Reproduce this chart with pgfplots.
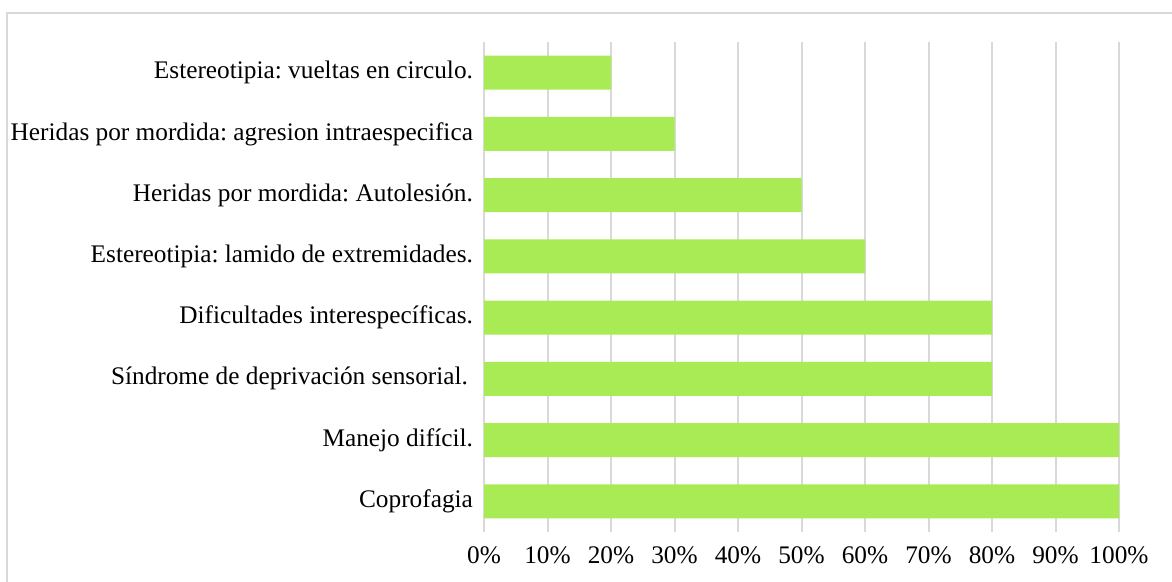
\documentclass[border=0pt]{standalone}
\usepackage{pgfplots}
\pgfplotsset{compat=1.18}
\usepackage{fontspec}
\setmainfont{Liberation Serif}
\definecolor{barG}{HTML}{A9EB55}
\definecolor{gridG}{HTML}{D9D9D9}

\begin{document}
\frenchspacing
\begin{tikzpicture}[x=0.5pt,y=0.5pt]
% outer frame of the chart (cut off at right and bottom)
\draw[gridG, line width=1pt] (7,-20) -- (7,569) -- (1200,569);
\begin{axis}[
  at={(242pt,25pt)}, anchor=south west,
  scale only axis, width=317.5pt, height=245pt,
  xbar, bar width=17pt,
  xmin=0, xmax=100, ymin=-0.5, ymax=7.5,
  xtick={0,10,...,100},
  xticklabel={\pgfmathprintnumber{\tick}\%},
  ytick={0,1,2,3,4,5,6,7},
  yticklabels={Coprofagia, Manejo difícil., Síndrome de deprivación sensorial.\kern2.5pt, Dificultades interespecíficas., Estereotipia: lamido de extremidades., Heridas por mordida: Autolesión., Heridas por mordida: agresion intraespecifica, Estereotipia: vueltas en circulo.},
  font=\fontsize{12.65}{14}\selectfont,
  /pgf/number format/assume math mode=true,
  xmajorgrids, major grid style={gridG, line width=1pt},
  axis line style={draw=none},
  major tick length=0pt,
  xticklabel style={yshift=-4pt},
  yticklabel style={xshift=-2pt},
]
\addplot[fill=barG, draw=none] coordinates {(100,0)(100,1)(80,2)(80,3)(60,4)(50,5)(30,6)(20,7)};
\end{axis}
\pgfresetboundingbox
\path (0,0) rectangle (1172,582);
\end{tikzpicture}
\end{document}
